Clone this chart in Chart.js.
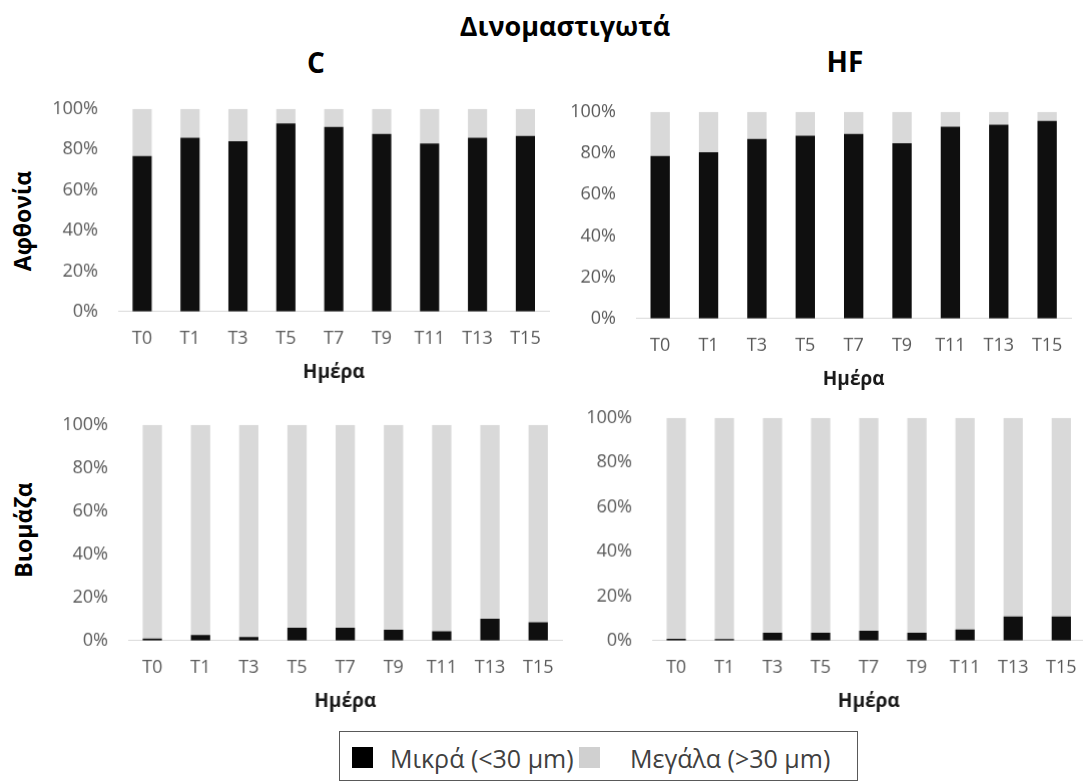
<!DOCTYPE html>
<html lang="el">
<head>
<meta charset="utf-8">
<title>Δινομαστιγωτά</title>
<script src="https://cdn.jsdelivr.net/npm/chart.js@4.4.1/dist/chart.umd.min.js"></script>
<style>
  html, body { margin: 0; padding: 0; background: #ffffff; }
  body { width: 1083px; height: 781px; position: relative; overflow: hidden; font-family: "Open Sans", sans-serif; }
  canvas { position: absolute; }
  .lbl { position: absolute; white-space: nowrap; line-height: 1; transform: translate(-50%, -50%); }
  .head { font-weight: 700; color: #000; }
  .row { font-weight: 700; color: #000; font-size: 23px; transform: translate(-50%, -50%) rotate(-90deg); }
  #legend { position: absolute; left: 339px; top: 731px; width: 517px; height: 48px; border: 1px solid #595959; box-sizing: content-box; }
  .sw { position: absolute; width: 21px; height: 21px; }
  .lt { position: absolute; font-size: 25px; color: #404040; line-height: 1; transform: translateY(-50%); white-space: nowrap; }
</style>
</head>
<body>

<div class="lbl head" style="left:565px; top:25px; font-size:27px;">Δινομαστιγωτά</div>
<div class="lbl head" style="left:316px; top:62px; font-size:28px;">C</div>
<div class="lbl head" style="left:845px; top:61px; font-size:28px;">HF</div>
<div class="lbl row" style="left:22px; top:221px;">Αφθονία</div>
<div class="lbl row" style="left:23px; top:530px;">Βιομάζα</div>

<canvas id="abundC"></canvas>
<canvas id="abundHF"></canvas>
<canvas id="bioC"></canvas>
<canvas id="bioHF"></canvas>

<div id="legend"></div>

<script>
// Sampling days
const days = ['T0', 'T1', 'T3', 'T5', 'T7', 'T9', 'T11', 'T13', 'T15'];

// Share (%) of small (<30 µm) and large (>30 µm) dinoflagellates
const abundC_small  = [76.7, 85.8, 84.0, 92.9, 91.1, 87.6, 83.0, 85.8, 86.6];
const abundC_large  = [23.3, 14.2, 16.0,  7.1,  8.9, 12.4, 17.0, 14.2, 13.4];
const abundHF_small = [78.7, 80.5, 86.9, 88.5, 89.4, 84.9, 92.9, 93.8, 95.6];
const abundHF_large = [21.3, 19.5, 13.1, 11.5, 10.6, 15.1,  7.1,  6.2,  4.4];
const bioC_small    = [0.9, 2.6, 1.7, 5.9, 5.9, 5.0, 4.3, 10.1, 8.5];
const bioC_large    = [99.1, 97.4, 98.3, 94.1, 94.1, 95.0, 95.7, 89.9, 91.5];
const bioHF_small   = [0.8, 0.7, 3.5, 3.5, 4.4, 3.5, 5.0, 10.8, 10.8];
const bioHF_large   = [99.2, 99.3, 96.5, 96.5, 95.6, 96.5, 95.0, 89.2, 89.2];

// Percent axis
const yMin = 0, yMax = 100, yStep = 20;

// Series names and colours
const seriesNames = ['Μικρά (<30 μm)', 'Μεγάλα (>30 μm)'];
const seriesColors = ['#0f0f0f', '#d9d9d9'];
const xTitle = 'Ημέρα';

const FONT = '"Open Sans", sans-serif';
const Y_AXIS_W = 100;   // width reserved for the percent labels
const X_AXIS_H = 80;    // height reserved for day labels + axis title
const PAD_TOP = 15;
const PAD_RIGHT = 2;

// plot-area rectangles (left, top, right, bottom) in page pixels
const panels = [
  { id: 'abundC',  small: abundC_small,  large: abundC_large,  area: [118, 109, 548, 311] },
  { id: 'abundHF', small: abundHF_small, large: abundHF_large, area: [636, 112, 1071, 318] },
  { id: 'bioC',    small: bioC_small,    large: bioC_large,    area: [128, 425, 561, 640] },
  { id: 'bioHF',   small: bioHF_small,   large: bioHF_large,   area: [652, 418, 1084, 640] }
];

function place(cv, left, top, w, h) {
  cv.style.left = left + 'px';
  cv.style.top = top + 'px';
  cv.style.width = w + 'px';
  cv.style.height = h + 'px';
}

function makePanel(p) {
  const [L, T, R, B] = p.area;
  const cv = document.getElementById(p.id);
  let w = Y_AXIS_W + (R - L) + PAD_RIGHT;
  let h = PAD_TOP + (B - T) + X_AXIS_H;
  cv.width = w; cv.height = h;
  place(cv, L - Y_AXIS_W, T - PAD_TOP, w, h);

  const chart = new Chart(cv, {
    type: 'bar',
    data: {
      labels: days,
      datasets: [
        { label: seriesNames[0], data: p.small, backgroundColor: seriesColors[0], borderWidth: 0 },
        { label: seriesNames[1], data: p.large, backgroundColor: seriesColors[1], borderWidth: 0 }
      ]
    },
    options: {
      responsive: false,
      maintainAspectRatio: false,
      animation: false,
      devicePixelRatio: 1,
      layout: { padding: { top: PAD_TOP, right: PAD_RIGHT, bottom: 0, left: 0 } },
      plugins: { legend: { display: false }, tooltip: { enabled: false }, title: { display: false } },
      datasets: { bar: { barPercentage: 0.4, categoryPercentage: 1.0 } },
      scales: {
        x: {
          stacked: true,
          grid: { display: false, drawTicks: false },
          border: { display: true, color: '#d9d9d9', width: 1 },
          ticks: { color: '#595959', font: { family: FONT, size: 18, lineHeight: 1.2 }, padding: 16, maxRotation: 0, autoSkip: false },
          title: { display: true, text: xTitle, color: '#1a1a1a',
                   font: { family: FONT, size: 19, weight: 'bold', lineHeight: 1.2 },
                   padding: { top: 0, bottom: 8 } },
          afterFit: s => { s.height = X_AXIS_H; }
        },
        y: {
          stacked: true,
          min: yMin, max: yMax,
          grid: { display: false, drawTicks: false },
          border: { display: false },
          ticks: { stepSize: yStep, color: '#595959', font: { family: FONT, size: 18, lineHeight: 1.2 }, padding: 20,
                   callback: v => v + '%' },
          afterFit: s => { s.width = Y_AXIS_W; }
        }
      }
    }
  });

  // shift/resize the canvas so that the plot area lands on the wanted rectangle
  const ca = chart.chartArea;
  const extraTop = ca.top, extraLeft = ca.left;
  const nw = extraLeft + (R - L) + (w - ca.right);
  const nh = extraTop + (B - T) + (h - ca.bottom);
  chart.resize(nw, nh);
  const ca2 = chart.chartArea;
  place(cv, L - ca2.left, T - ca2.top, nw, nh);
}

panels.forEach(makePanel);

// Legend entries: swatch box + name
const legend = document.getElementById('legend');
const legendItems = [
  { sw: [12, 15], text: [50, 26] },
  { sw: [239, 15], text: [290, 26] }
];
legendItems.forEach((it, i) => {
  const s = document.createElement('div');
  s.className = 'sw';
  s.style.left = it.sw[0] + 'px';
  s.style.top = it.sw[1] + 'px';
  s.style.background = i === 0 ? '#000000' : '#d0d0d0';
  legend.appendChild(s);
  const t = document.createElement('div');
  t.className = 'lt';
  t.style.left = it.text[0] + 'px';
  t.style.top = it.text[1] + 'px';
  t.textContent = seriesNames[i];
  legend.appendChild(t);
});
</script>
</body>
</html>
